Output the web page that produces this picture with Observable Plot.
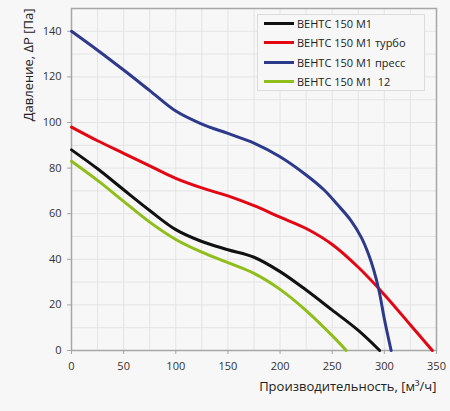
<!DOCTYPE html>
<html>
<head>
<meta charset="utf-8">
<script src="https://cdn.jsdelivr.net/npm/d3@7"></script>
<script src="https://cdn.jsdelivr.net/npm/@observablehq/plot@0.6"></script>
<style>
  html, body { margin: 0; padding: 0; background: #f7f7f7; }
  #wrap { position: relative; width: 450px; height: 411px; font-family: "Open Sans", sans-serif; }
  #legend { position: absolute; left: 257px; top: 14px; width: 166px; height: 75px; border: 1px solid #dcdcdc; background: #f7f7f7; }
  .row { position: absolute; left: 0; height: 16px; display: flex; align-items: center; font-size: 11px; color: #222; white-space: pre; }
  .sw { width: 30px; height: 3px; margin-left: 6px; margin-right: 3px; }
</style>
</head>
<body>
<div id="wrap"><div id="legend"></div></div>
<script>
const seriesNames = ["ВЕНТС 150 М1", "ВЕНТС 150 М1 турбо", "ВЕНТС 150 М1 пресс", "ВЕНТС 150 М1  12"];
const seriesColors = ["#111111", "#e30613", "#2d3a8c", "#8fbe1a"];

const blackX = [0, 25, 50, 75, 100, 125, 150, 175, 200, 225, 250, 275, 295.5];
const blackY = [88, 79.7, 70.5, 61.4, 53, 47.8, 44.2, 40.9, 34.6, 26.5, 17.7, 8.8, 0];

const redX = [0, 25, 50, 75, 100, 125, 150, 175, 200, 225, 250, 275, 300, 325, 346];
const redY = [98, 92, 86.5, 81, 75.5, 71.3, 67.8, 63.5, 58.5, 53.5, 46.5, 36.5, 24.5, 11.2, 0];

const blueX = [0, 25, 50, 75, 100, 125, 150, 175, 200, 225, 242, 255, 268, 278, 285, 290, 295, 300, 306.5];
const blueY = [140, 131.7, 123, 114, 105, 99.3, 95.2, 91, 85, 77, 70.5, 64, 57, 49.5, 42, 35, 26, 13.8, 0];

const greenX = [0, 25, 50, 75, 100, 125, 150, 175, 200, 225, 250, 263.5];
const greenY = [83, 74.6, 65.4, 56.3, 48.7, 43.1, 38.5, 33.8, 26.8, 17.5, 6.5, 0];

const xTicks = [0, 50, 100, 150, 200, 250, 300, 350];
const yTicks = [0, 20, 40, 60, 80, 100, 120, 140];
const xGrid = d3.range(0, 351, 25);
const yGrid = d3.range(0, 151, 10);

const xs = [blackX, redX, blueX, greenX];
const ys = [blackY, redY, blueY, greenY];
const data = seriesNames.flatMap((name, i) => xs[i].map((x, j) => ({series: name, x, y: ys[i][j]})));

const chart = Plot.plot({
  width: 450,
  height: 411,
  marginLeft: 71,
  marginRight: 14,
  marginTop: 8,
  marginBottom: 61,
  style: {background: "#f7f7f7", fontFamily: "Open Sans, sans-serif", fontSize: "11px", color: "#333"},
  x: {domain: [0, 350]},
  y: {domain: [0, 150]},
  color: {domain: seriesNames, range: seriesColors},
  marks: [
    Plot.gridX(xGrid, {stroke: "#e4e4e4", strokeOpacity: 1}),
    Plot.gridY(yGrid, {stroke: "#e4e4e4", strokeOpacity: 1}),
    Plot.frame({stroke: "#a6a6a6", strokeWidth: 1.5}),
    Plot.axisX(xTicks, {tickSize: 4, tickPadding: 8, stroke: "#a6a6a6", fill: "#333", fontSize: 11, label: null}),
    Plot.axisY(yTicks, {tickSize: 4, tickPadding: 6, stroke: "#a6a6a6", fill: "#333", fontSize: 11, label: null}),
    Plot.line(data, {x: "x", y: "y", z: "series", stroke: "series", strokeWidth: 3, curve: "catmull-rom"}),
    Plot.text(["Давление, ΔP [Па]"], {frameAnchor: "top-left", text: d => d, rotate: -90, textAnchor: "end", dx: -48, fontSize: 13, fill: "#222"}),
    Plot.text(["Производительность, [м³/ч]"], {frameAnchor: "bottom-right", text: d => d, textAnchor: "end", dy: 40, fontSize: 13, fill: "#222"})
  ]
});
document.getElementById("wrap").prepend(chart);

const legend = document.getElementById("legend");
const rowTops = [0.5, 19.8, 39.2, 58.5];
seriesNames.forEach((name, i) => {
  const row = document.createElement("div");
  row.className = "row";
  row.style.top = rowTops[i] + "px";
  const sw = document.createElement("span");
  sw.className = "sw";
  sw.style.background = seriesColors[i];
  const t = document.createElement("span");
  t.textContent = name;
  row.append(sw, t);
  legend.append(row);
});
</script>
</body>
</html>
